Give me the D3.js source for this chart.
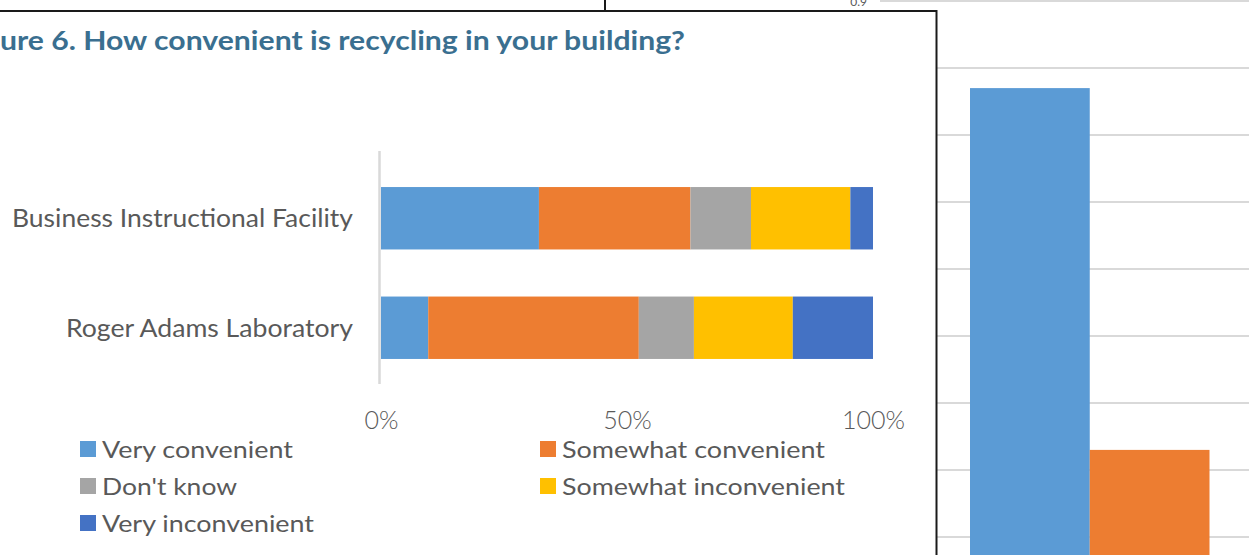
<!DOCTYPE html>
<html>
<head>
<meta charset="utf-8">
<script src="https://cdn.jsdelivr.net/npm/d3@7"></script>
<style>
  html, body { margin: 0; padding: 0; background: #fff; }
  svg { display: block; }
  text { font-family: Lato, "Open Sans", sans-serif; }
</style>
</head>
<body>
<svg id="chart" width="1249" height="555"></svg>
<script>
// ---------------- DATA ----------------
const categories = ["Business Instructional Facility", "Roger Adams Laboratory"];
const seriesNames = ["Very convenient", "Somewhat convenient", "Don't know", "Somewhat inconvenient", "Very inconvenient"];
const veryConvenient       = [32.1, 9.6];
const somewhatConvenient   = [30.8, 42.8];
const dontKnow             = [12.3, 11.2];
const somewhatInconvenient = [20.2, 20.1];
const veryInconvenient     = [4.6, 16.3];
const xTickValues = [0, 0.5, 1];
const titleText = "ure 6. How convenient is recycling in your building?";

// partially hidden chart behind the window
const backValues = [0.77, 0.23];
const backTicks = [0.1, 0.2, 0.3, 0.4, 0.5, 0.6, 0.7, 0.8, 0.9];
const backTickLabels = ["0.9"];

// ---------------- STYLE ----------------
const colors = ["#5B9BD5", "#ED7D31", "#A5A5A5", "#FFC000", "#4472C4"];
const textGray = "#595959";

const svg = d3.select("#chart");

// ---------- background chart (right) ----------
const by = d3.scaleLinear().domain([0, 0.9]).range([604, 1]);
const bx = d3.scaleBand().domain(d3.range(backValues.length)).range([970, 1209.5]).padding(0);
const back = svg.append("g");
back.selectAll("line.grid").data(backTicks).join("line")
  .attr("class", "grid")
  .attr("x1", 880).attr("x2", 1249)
  .attr("y1", d => by(d)).attr("y2", d => by(d))
  .attr("stroke", "#d9d9d9").attr("stroke-width", 2);
back.selectAll("text.tl").data(backTickLabels).join("text")
  .attr("class", "tl")
  .attr("x", 867).attr("y", d => by(+d) + 5)
  .attr("text-anchor", "end")
  .attr("font-size", 12).attr("fill", textGray)
  .text(d => d);
back.selectAll("rect").data(backValues).join("rect")
  .attr("x", (d, i) => bx(i)).attr("width", bx.bandwidth())
  .attr("y", d => by(d)).attr("height", d => by(0) - by(d))
  .attr("fill", (d, i) => colors[i]);

// ---------- window frame ----------
svg.append("line").attr("x1", 605).attr("x2", 605).attr("y1", 0).attr("y2", 11)
  .attr("stroke", "#1a1a1a").attr("stroke-width", 2);
svg.append("rect").attr("x", -5).attr("y", 11).attr("width", 941.5).attr("height", 560)
  .attr("fill", "#fff").attr("stroke", "#1a1a1a").attr("stroke-width", 2);

// ---------- main chart ----------
const g = svg.append("g");

function fit(sel, w) { sel.attr("textLength", w).attr("lengthAdjust", "spacingAndGlyphs"); }

// title
g.append("text").attr("x", 0).attr("y", 50)
  .attr("font-size", 26).attr("font-weight", "bold").attr("fill", "#3a6f90")
  .text(titleText).call(fit, 685);

const x = d3.scaleLinear().domain([0, 1]).range([381, 873]);
const y = d3.scaleBand().domain(categories).range([163.5, 382.5]).paddingInner(0.43).paddingOuter(0.215);

const rows = categories.map((c, i) => {
  const vals = [veryConvenient[i], somewhatConvenient[i], dontKnow[i], somewhatInconvenient[i], veryInconvenient[i]];
  const total = d3.sum(vals);
  const o = { category: c };
  seriesNames.forEach((s, k) => o[s] = vals[k] / total);
  return o;
});
const stacked = d3.stack().keys(seriesNames)(rows);

g.selectAll("g.series").data(stacked).join("g")
  .attr("class", "series")
  .attr("fill", (d, i) => colors[i])
  .selectAll("rect").data(d => d).join("rect")
  .attr("x", d => x(d[0]))
  .attr("width", d => x(d[1]) - x(d[0]))
  .attr("y", d => y(d.data.category))
  .attr("height", y.bandwidth());

// category axis line
g.append("line").attr("x1", 379.5).attr("x2", 379.5).attr("y1", 151).attr("y2", 384)
  .attr("stroke", "#d9d9d9").attr("stroke-width", 2.5);

// category labels
const catWidths = { "Business Instructional Facility": 341, "Roger Adams Laboratory": 287 };
g.selectAll("text.cat").data(categories).join("text")
  .attr("class", "cat")
  .attr("x", 353).attr("y", d => y(d) + y.bandwidth() / 2 + 9)
  .attr("text-anchor", "end")
  .attr("font-size", 25).attr("fill", textGray)
  .text(d => d)
  .each(function(d) { d3.select(this).call(fit, catWidths[d]); });

// value axis
const xAxis = d3.axisBottom(x).tickValues(xTickValues).tickFormat(d3.format(".0%")).tickSize(0).tickPadding(0);
const ax = g.append("g").attr("transform", "translate(0,408)").call(xAxis);
ax.select(".domain").remove();
ax.selectAll("text")
  .attr("font-family", "Lato, sans-serif")
  .attr("font-size", 25).attr("font-weight", 300).attr("fill", textGray)
  .attr("dy", 0).attr("y", 21);

// legend
const legendPos = [[80, 458], [540, 458], [80, 495], [540, 495], [80, 532]];
const legWidths = [191, 263, 135, 283, 212];
const leg = g.selectAll("g.leg").data(seriesNames).join("g")
  .attr("class", "leg")
  .attr("transform", (d, i) => `translate(${legendPos[i][0]},${legendPos[i][1]})`);
leg.append("rect").attr("x", 0).attr("y", -17).attr("width", 16).attr("height", 16)
  .attr("fill", (d, i) => colors[i]);
leg.append("text").attr("x", 22).attr("y", 0)
  .attr("font-size", 24).attr("fill", textGray)
  .text(d => d)
  .each(function(d, i) { d3.select(this).call(fit, legWidths[i]); });
</script>
</body>
</html>
